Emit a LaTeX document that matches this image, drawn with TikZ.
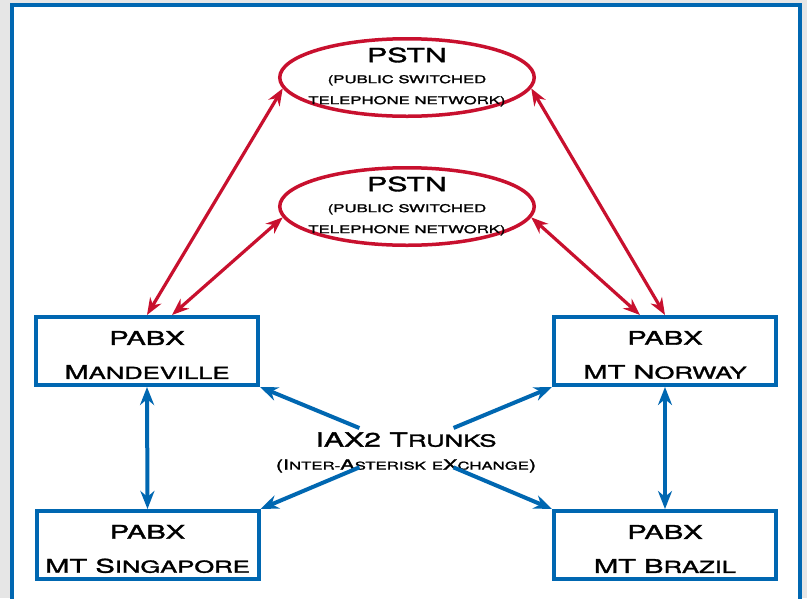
\documentclass[tikz,border=0pt]{standalone}
\usepackage{fontspec}
\setmainfont{TeX Gyre Heros}[FakeStretch=1.55,FakeBold=1.8]
\usetikzlibrary{arrows.meta,shapes.geometric}
\definecolor{fblue}{RGB}{0,103,177}
\definecolor{fred}{RGB}{200,16,46}
\definecolor{fgray}{RGB}{230,230,230}
\newcommand\bsc[1]{{\fontsize{16.5}{34}\selectfont #1}}
\newcommand\isc[1]{{\fontsize{16.6}{23}\selectfont #1}}
\newcommand\tsc[1]{{\fontsize{10.8}{23}\selectfont #1}}
\begin{document}
\begin{tikzpicture}[x=1pt,y=-1pt,
  pabx/.style={draw=fblue,line width=4pt,fill=white,minimum width=222pt,minimum height=68pt,inner sep=0pt},
  pabxtext/.style={align=center,inner sep=0pt,font=\fontsize{18.8}{34}\selectfont},
  oval/.style={draw=fred,line width=3.5pt,ellipse,minimum width=254.5pt,minimum height=77.5pt,inner sep=0pt},
  ovaltext/.style={align=center,inner sep=0pt,font=\fontsize{10.8}{21}\selectfont},
  redarr/.style={draw=fred,line width=3.2pt,{Stealth[length=17pt,width=13pt]}-{Stealth[length=17pt,width=13pt]}},
  bluearr/.style={draw=fblue,line width=4pt,shorten <=51pt,-{Stealth[length=18pt,width=14pt]}},
  bluedbl/.style={draw=fblue,line width=4pt,{Stealth[length=18pt,width=14pt]}-{Stealth[length=18pt,width=14pt]}},
  iaxtext/.style={align=center,inner sep=0pt,font=\fontsize{14}{23}\selectfont}
]
\useasboundingbox (0,0) rectangle (807,598);
\fill[fgray] (0,0) rectangle (807,598);
\begin{scope}
  \clip (0,0) rectangle (807,598);
  \draw[fblue,line width=4pt,fill=white] (12,5) rectangle (800,640);
\end{scope}

% PSTN ellipses
\node[oval] (p1) at (407,77.5) {};
\node[ovaltext] (p1t) at (407,77) {{\fontsize{19.5}{21}\selectfont PSTN}\\(PUBLIC SWITCHED\\TELEPHONE NETWORK)};
\node[oval] (p2) at (407,206.5) {};
\node[ovaltext] (p2t) at (407,206) {{\fontsize{19.5}{21}\selectfont PSTN}\\(PUBLIC SWITCHED\\TELEPHONE NETWORK)};

% PABX boxes
\node[pabx] (mand) at (147,351) {};
\node[pabxtext] (mandt) at (147,355) {PABX\\M\bsc{ANDEVILLE}};
\node[pabx] (norw) at (665,351) {};
\node[pabxtext] (norwt) at (665,355) {PABX\\MT N\bsc{ORWAY}};
\node[pabx] (sing) at (147.5,545) {};
\node[pabxtext] (singt) at (147.5,549) {PABX\\MT S\bsc{INGAPORE}};
\node[pabx] (braz) at (665,545) {};
\node[pabxtext] (brazt) at (665,549) {PABX\\MT B\bsc{RAZIL}};

% IAX2 label and hub of the trunk arrows
\node[iaxtext] (iax) at (406,452.5) {{\fontsize{19.5}{23}\selectfont IAX2 T\isc{RUNKS}}\\(I\tsc{NTER-}A\tsc{STERISK} \tsc{E}X\tsc{CHANGE})};
\coordinate (hub) at (406.5,447.5);

% red connectors
\draw[redarr] (p1.185) -- (mand.north);
\draw[redarr] (p2.185) -- ([xshift=25pt]mand.north);
\draw[redarr] (p1.355) -- (norw.north);
\draw[redarr] (p2.355) -- ([xshift=-25pt]norw.north);

% blue connectors
\draw[bluedbl] (mand.south) -- (sing.north);
\draw[bluedbl] (norw.south) -- (braz.north);
\draw[bluearr] (hub) -- (mand.south east);
\draw[bluearr] (hub) -- (norw.south west);
\draw[bluearr] (hub) -- (sing.north east);
\draw[bluearr] (hub) -- (braz.north west);
\end{tikzpicture}
\end{document}
